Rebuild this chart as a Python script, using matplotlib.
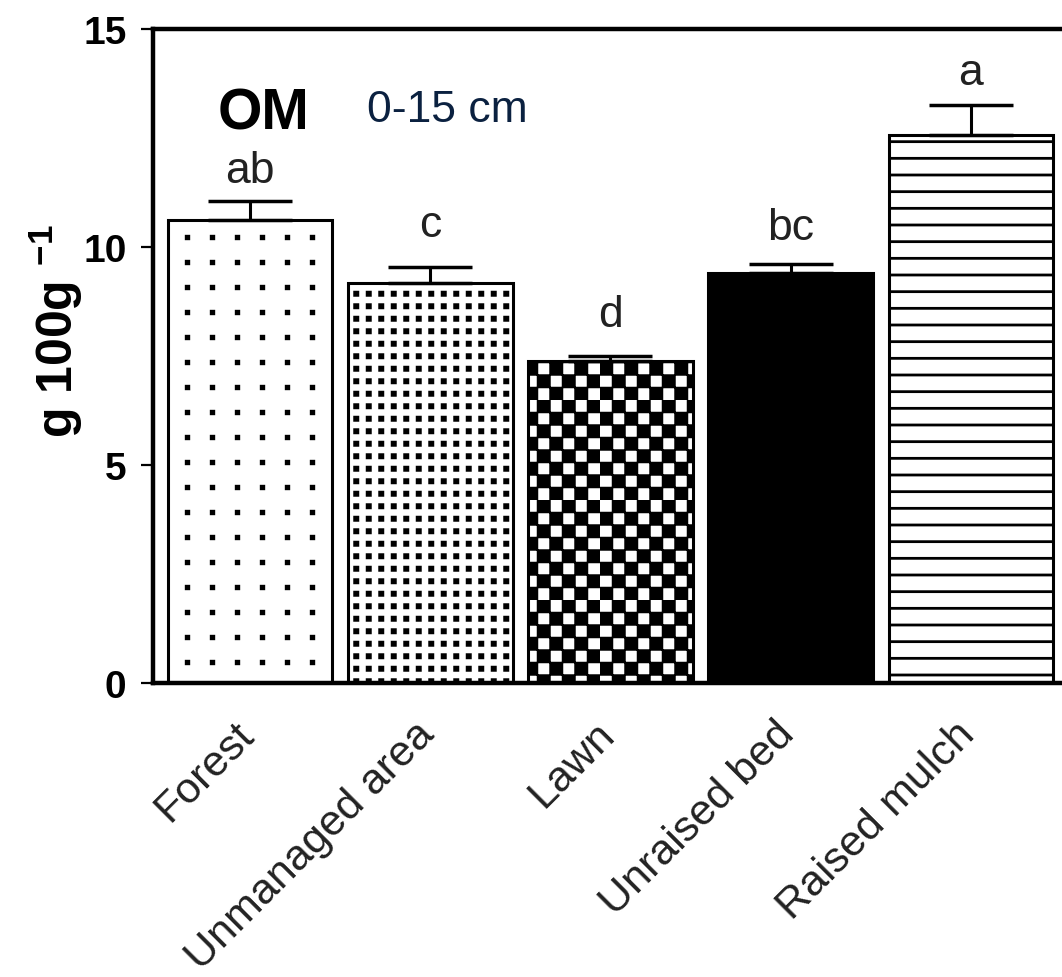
import warnings
import numpy as np
import matplotlib
matplotlib.use('Agg')
import matplotlib.pyplot as plt
import matplotlib.hatch as mhatch
import matplotlib.transforms as mtransforms
from matplotlib.path import Path

warnings.filterwarnings('ignore')

# data
sites = ['Forest', 'Unmanaged area', 'Lawn', 'Unraised bed', 'Raised mulch']
om_mean = [10.62, 9.17, 7.38, 9.41, 12.57]
om_se = [0.44, 0.37, 0.13, 0.21, 0.68]
letters = ['ab', 'c', 'd', 'bc', 'a']
letter_y = [11.49, 10.25, 8.19, 10.18, 13.74]

# square-dot / checker hatches (not in matplotlib by default)
# char -> (cells per inch, half size, checker)
SQUARE_HATCH = {'p': (4, 0.013, False), 'q': (8, 0.016, False), 'k': (8, 0.056, True)}


class SquareHatch(mhatch.HatchPatternBase):
    def __init__(self, hatch, density):
        self.squares = []
        for ch, (n, half, checker) in SQUARE_HATCH.items():
            if ch in hatch:
                for i in range(n):
                    for j in range(n):
                        if checker and (i + j) % 2:
                            continue
                        self.squares.append(((i + 0.5) / n, (j + 0.5) / n, half))
        self.num_vertices = len(self.squares) * 5

    def set_vertices_and_codes(self, vertices, codes):
        for k, (cx, cy, h) in enumerate(self.squares):
            vertices[5 * k:5 * k + 5] = [(cx - h, cy - h), (cx + h, cy - h),
                                         (cx + h, cy + h), (cx - h, cy + h),
                                         (cx - h, cy - h)]
            codes[5 * k:5 * k + 5] = [Path.MOVETO, Path.LINETO, Path.LINETO,
                                      Path.LINETO, Path.CLOSEPOLY]


mhatch._hatch_types.append(SquareHatch)

plt.rcParams['font.family'] = ['Liberation Sans', 'DejaVu Sans']
plt.rcParams['mathtext.default'] = 'regular'
plt.rcParams['hatch.linewidth'] = 2.0
plt.rcParams['hatch.color'] = 'black'

hatches = ['p', 'q', 'k', None, '-']
faces = ['white', 'white', 'white', 'black', 'white']

fig = plt.figure(figsize=(10.62, 9.78), dpi=100)
ax = fig.add_axes([153 / 1062, 294 / 978, 909 / 1062, 654 / 978])

x = np.arange(len(sites))
bars = ax.bar(x, om_mean, width=0.915, color=faces, edgecolor='black',
              linewidth=2.2, zorder=2)
for b, h in zip(bars, hatches):
    if h:
        b.set_hatch(h)

ax.errorbar(x, om_mean, yerr=[np.zeros(len(x)), om_se], fmt='none',
            ecolor='black', elinewidth=2.2, capsize=30, capthick=2.5, zorder=3)

for xi, lab, ly in zip(x, letters, letter_y):
    ax.text(xi, ly, lab, ha='center', va='baseline', fontsize=32,
            color='#222222')

ax.set_xlim(-0.538, 4.505)
ax.set_ylim(0, 15)
ax.set_yticks([0, 5, 10, 15])
ax.set_xticks(x)
ax.set_xticklabels(sites, rotation=45, ha='right', rotation_mode='anchor',
                   fontsize=31, color='#222222')
ax.tick_params(axis='x', length=0, pad=22)
ax.tick_params(axis='y', length=9, width=1.6, pad=10, labelsize=28)
shift = mtransforms.ScaledTranslation(-12 / 72, 0, fig.dpi_scale_trans)
for t in ax.get_xticklabels():
    t.set_transform(t.get_transform() + shift)
for t in ax.get_yticklabels():
    t.set_fontweight('bold')

for s in ['left', 'bottom', 'top']:
    ax.spines[s].set_linewidth(3.2)
ax.spines['right'].set_visible(False)

ax.set_ylabel('g 100g $^{-1}$', fontsize=36, fontweight='bold')
ax.yaxis.set_label_coords(-0.075, 0.54)

fig.text(218 / 1062, 1 - 130 / 978, 'OM', fontsize=41, fontweight='bold',
         ha='left', va='baseline')
fig.text(367 / 1062, 1 - 122 / 978, '0-15 cm', fontsize=32, color='#0b2140',
         ha='left', va='baseline')

fig.savefig('out.png', dpi=100)
